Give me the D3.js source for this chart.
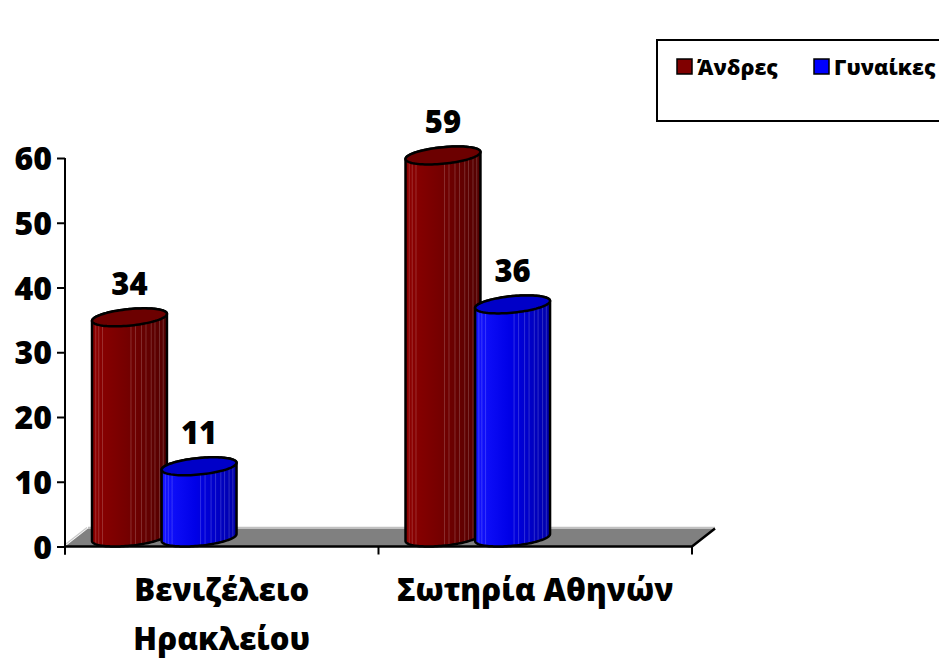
<!DOCTYPE html>
<html>
<head>
<meta charset="utf-8">
<script src="https://cdn.jsdelivr.net/npm/d3@7"></script>
<style>
  html, body { margin: 0; padding: 0; background: #fff; }
  svg { display: block; }
  text { font-family: "Open Sans", "Noto Sans", sans-serif; font-weight: 800; fill: #000; }
</style>
</head>
<body>
<svg id="chart" width="939" height="659"></svg>
<script>
// Hospital categories (line breaks mark wrapped labels)
const categories = ["Βενιζέλειο\nΗρακλείου", "Σωτηρία Αθηνών"];
// Series
const seriesNames = ["Άνδρες", "Γυναίκες"];
const andres = [34, 59];
const gynaikes = [11, 36];
const seriesValues = [andres, gynaikes];
// Axis ticks
const yTicks = [0, 10, 20, 30, 40, 50, 60];

const palette = {
  "Άνδρες":   { light: "#8e0000", mid: "#760000", dark: "#520000", top: "#6c0000", key: "#800000" },
  "Γυναίκες": { light: "#1414ff", mid: "#0000e8", dark: "#0000a8", top: "#0000c8", key: "#0000ff" }
};

const svg = d3.select("#chart");
const defs = svg.append("defs");

// Plot frame: front plane of the 3-D box and depth offset of the floor
const x0 = 65, x1 = 692;
const depthX = 23, depthY = -18;

const y = d3.scaleLinear().domain([0, 60]).range([546.5, 158]);
const x = d3.scaleBand().domain(categories).range([x0, x1]).padding(0);
const bw = x.bandwidth();

// Series placement inside each band (fraction of band width) and cylinder radius
const seriesCenter = [0.169, 0.391];
const radiusFrac = 0.1196;

// ---- Floor ----
const yFloor = y(0);
svg.append("polygon")
  .attr("points", [
    [x0, yFloor], [x1, yFloor], [x1 + depthX, yFloor + depthY], [x0 + depthX, yFloor + depthY]
  ].map(p => p.join(",")).join(" "))
  .attr("fill", "#808080");

// back wall base line and left wall edge
svg.append("line")
  .attr("x1", x0 + depthX).attr("y1", yFloor + depthY - 1)
  .attr("x2", x1 + depthX).attr("y2", yFloor + depthY - 1)
  .attr("stroke", "#c0c0c0").attr("stroke-width", 1.5);
svg.append("line")
  .attr("x1", x0 - 1).attr("y1", yFloor - 1)
  .attr("x2", x0 + depthX - 1).attr("y2", yFloor + depthY - 1)
  .attr("stroke", "#c8c8c8").attr("stroke-width", 1.2);

// front and right edges of the floor
svg.append("path")
  .attr("d", `M${x0},${yFloor}H${x1}L${x1 + depthX},${yFloor + depthY}`)
  .attr("fill", "none").attr("stroke", "#000").attr("stroke-width", 2.5)
  .attr("stroke-linejoin", "miter");

// category tick marks under the floor edge
const catTicks = categories.map(c => x(c)).concat([x1]);
svg.selectAll(".cat-tick").data(catTicks).join("line")
  .attr("x1", d => d).attr("x2", d => d)
  .attr("y1", yFloor).attr("y2", yFloor + 8)
  .attr("stroke", "#000").attr("stroke-width", 2);

// ---- Value axis ----
const yAxis = svg.append("g").attr("transform", `translate(${x0},0)`)
  .call(d3.axisLeft(y).tickValues(yTicks).tickSize(8).tickPadding(5).tickSizeOuter(0));
yAxis.select(".domain").remove();
yAxis.append("line")
  .attr("x1", 0).attr("x2", 0).attr("y1", y(60)).attr("y2", yFloor + 8)
  .attr("stroke", "#000").attr("stroke-width", 2);
yAxis.selectAll(".tick line").attr("stroke", "#000").attr("stroke-width", 2);
yAxis.selectAll(".tick text")
  .attr("font-size", 32).attr("fill", "#000")
  .attr("dy", "0.36em").attr("x", -13);
yAxis.attr("font-family", null).attr("font-size", null);

// ---- Cylinders ----
// Ellipse of a horizontal circle in oblique projection: tilted, squat
function ringPoint(cx, cy, R, t) {
  const a = 0.92 * R, b = 0.39 * R, c = 9;
  return [cx + a * Math.cos(t) + b * Math.sin(t), cy - c * Math.sin(t)];
}
function ringPath(cx, cy, R, t0, t1, n) {
  const pts = [];
  for (let i = 0; i <= n; i++) pts.push(ringPoint(cx, cy, R, t0 + (t1 - t0) * i / n));
  return pts;
}
const tEdge = Math.atan2(0.39, 0.92);

// vertical sheen lines across the cylinder side (fractions of its width)
const sheen = [0.05, 0.09, 0.14, 0.52, 0.58, 0.66, 0.72, 0.79, 0.84, 0.9, 0.95];

const bars = [];
categories.forEach((cat, ci) => {
  seriesNames.forEach((s, si) => {
    bars.push({ cat, ci, s, si, value: seriesValues[si][ci] });
  });
});

bars.forEach((d, i) => {
  const col = palette[d.s];
  const R = bw * radiusFrac;
  const cx = x(d.cat) + bw * seriesCenter[d.si] + depthX / 2;
  const cyTop = y(d.value) + depthY / 2;
  const cyBot = y(0) + depthY / 2;

  const gradId = "grad" + i;
  const g = defs.append("linearGradient").attr("id", gradId)
    .attr("x1", 0).attr("x2", 1).attr("y1", 0).attr("y2", 0);
  g.append("stop").attr("offset", 0).attr("stop-color", col.light);
  g.append("stop").attr("offset", 0.45).attr("stop-color", col.mid);
  g.append("stop").attr("offset", 1).attr("stop-color", col.dark);

  // side silhouette: left edge down, front half of the base, right edge up, back of the top
  const topL = ringPoint(cx, cyTop, R, Math.PI + tEdge);
  const base = ringPath(cx, cyBot, R, Math.PI + tEdge, 2 * Math.PI + tEdge, 60);
  const topBack = ringPath(cx, cyTop, R, tEdge, Math.PI + tEdge, 60);
  const side = d3.line()([topL, ...base, ...topBack]) + "Z";

  const clipId = "clip" + i;
  defs.append("clipPath").attr("id", clipId).append("path").attr("d", side);

  const grp = svg.append("g");
  grp.append("path").attr("d", side).attr("fill", `url(#${gradId})`);
  grp.append("g").attr("clip-path", `url(#${clipId})`)
    .selectAll("line").data(sheen).join("line")
    .attr("x1", f => cx - R + 2 * R * f).attr("x2", f => cx - R + 2 * R * f)
    .attr("y1", cyTop - 12).attr("y2", cyBot + 12)
    .attr("stroke", "#ffffff").attr("stroke-opacity", 0.18).attr("stroke-width", 1);
  grp.append("path").attr("d", side)
    .attr("fill", "none").attr("stroke", "#000").attr("stroke-width", 2.5)
    .attr("stroke-linejoin", "round");

  const top = d3.line()(ringPath(cx, cyTop, R, 0, 2 * Math.PI, 90)) + "Z";
  grp.append("path").attr("d", top)
    .attr("fill", col.top).attr("stroke", "#000").attr("stroke-width", 2.5);

  // value label
  svg.append("text")
    .attr("x", cx).attr("y", y(d.value) - 31)
    .attr("text-anchor", "middle").attr("font-size", 31)
    .text(d.value);
});

// ---- Category labels ----
categories.forEach(cat => {
  const lines = cat.split("\n");
  const t = svg.append("text")
    .attr("text-anchor", "middle").attr("font-size", 31)
    .attr("x", x(cat) + bw / 2).attr("y", 601);
  lines.forEach((ln, k) => {
    t.append("tspan").attr("x", x(cat) + bw / 2).attr("dy", k === 0 ? 0 : 49).text(ln);
  });
});

// ---- Legend ----
const legend = svg.append("g");
legend.append("rect")
  .attr("x", 657).attr("y", 40).attr("width", 300).attr("height", 81)
  .attr("fill", "#fff").attr("stroke", "#000").attr("stroke-width", 2);
const legendX = [677, 814];
seriesNames.forEach((s, k) => {
  legend.append("rect")
    .attr("x", legendX[k]).attr("y", 59).attr("width", 15).attr("height", 15)
    .attr("fill", palette[s].key).attr("stroke", "#000").attr("stroke-width", 1.5);
  legend.append("text")
    .attr("x", legendX[k] + 20).attr("y", 75)
    .attr("font-size", 21.5).text(s);
});
</script>
</body>
</html>
